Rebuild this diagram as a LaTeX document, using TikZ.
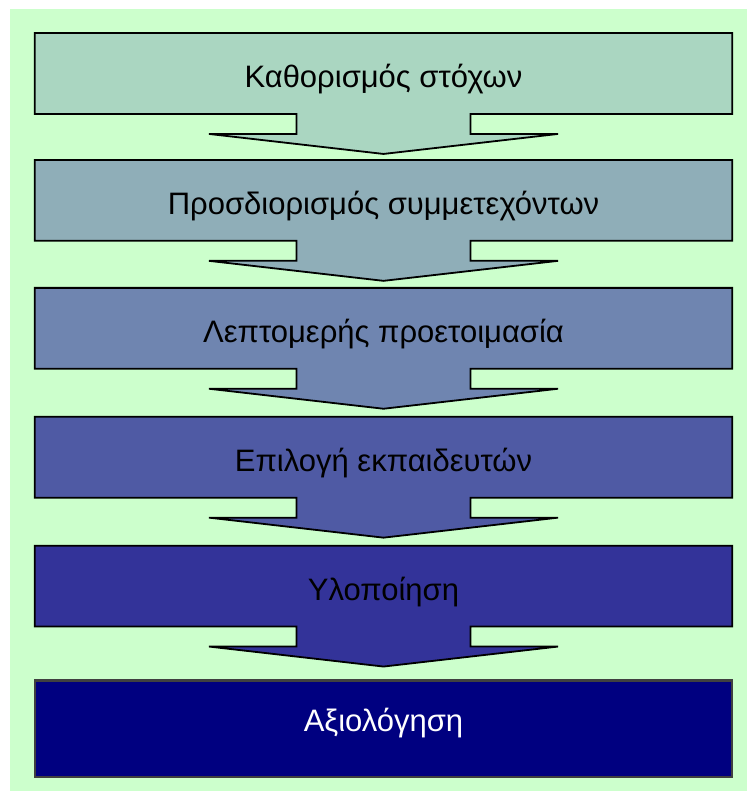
\documentclass[tikz,border=0pt]{standalone}
\usepackage{fontspec}
\setmainfont{Liberation Sans}
\usetikzlibrary{positioning}
\usetikzlibrary{calc}
\usetikzlibrary{backgrounds}

\definecolor{bggreen}{RGB}{204,255,204}
\definecolor{stepa}{RGB}{170,214,193}
\definecolor{stepb}{RGB}{143,174,184}
\definecolor{stepc}{RGB}{111,133,176}
\definecolor{stepd}{RGB}{79,90,164}
\definecolor{stepe}{RGB}{51,51,153}
\definecolor{stepf}{RGB}{0,0,128}
\definecolor{lastborder}{RGB}{64,64,64}

\begin{document}
\begin{tikzpicture}[x=1pt,y=-1pt,
	stepbox/.style={rectangle, minimum width=697pt, minimum height=80.5pt, inner sep=0pt,
		text height=28pt, text depth=0pt, font=\fontsize{31}{36}\selectfont},
	outline/.style={draw=black, line width=1.8pt}]
	\useasboundingbox (0,0) rectangle (747,791);
	
	\node (s1) [stepbox] at (383.5,73.5) {Καθορισμός στόχων};
	\node (s2) [stepbox, below=46pt of s1] {Προσδιορισμός συμμετεχόντων};
	\node (s3) [stepbox, below=47pt of s2] {Λεπτομερής προετοιμασία};
	\node (s4) [stepbox, below=48pt of s3] {Επιλογή εκπαιδευτών};
	\node (s5) [stepbox, below=48pt of s4] {Υλοποίηση};
	\node (s6) [stepbox, below=54pt of s5, minimum height=96pt, text height=6pt, text=white] {Αξιολόγηση};
	
	% boxes with their arrows underneath the text
	\begin{scope}[on background layer]
		\fill[bggreen] (10,9) rectangle (747,791);
		\foreach \n/\c in {s1/stepa, s2/stepb, s3/stepc, s4/stepd, s5/stepe}
			\filldraw[outline, fill=\c] (\n.north west) -- (\n.north east) -- (\n.south east)
				-- ($(\n.south)+(87,0)$) -- ++(0,20) -- ++(87.5,0) -- ($(\n.south)+(0,40)$)
				-- ($(\n.south)+(-174.5,20)$) -- ++(87.5,0) -- ++(0,-20) -- (\n.south west) -- cycle;
		\filldraw[draw=lastborder, line width=2.5pt, fill=stepf] (s6.north west) rectangle (s6.south east);
	\end{scope}
\end{tikzpicture}
\end{document}
